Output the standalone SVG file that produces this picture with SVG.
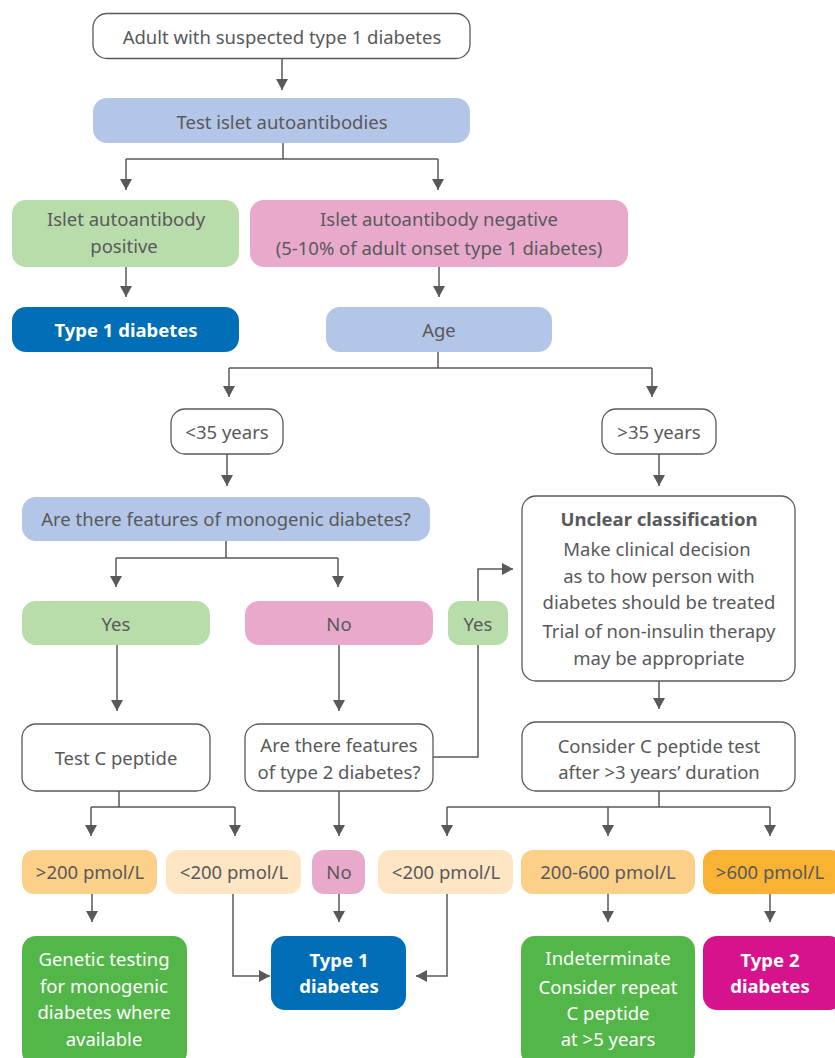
<svg xmlns="http://www.w3.org/2000/svg" width="835" height="1058" viewBox="0 0 835 1058">
<defs>
<marker id="ah" viewBox="0 0 10 8" refX="10" refY="4" markerWidth="11" markerHeight="12" markerUnits="userSpaceOnUse" orient="auto" preserveAspectRatio="none">
<path d="M0,0 L10,4 L0,8 z" fill="#58595b"/>
</marker>
</defs>
<style>
text{font-family:"Noto Sans",Lato,sans-serif;font-size:18.5px;fill:#58595b;text-anchor:middle;dominant-baseline:central}
.b{font-weight:bold}
.w{fill:#fff}
.wb{fill:#fff;font-weight:bold}
.wh{fill:#fff;stroke:#58595b;stroke-width:1.3}
.blue{fill:#b4c6e7}
.green{fill:#b9dcab}
.pink{fill:#e9a9cb}
.dblue{fill:#006eb6}
.dgreen{fill:#52b748}
.mag{fill:#d6138c}
.o1{fill:#fdd08a}
.o2{fill:#fee5c4}
.o3{fill:#f9b233}
.c{fill:none;stroke:#58595b;stroke-width:1.5;marker-end:url(#ah)}
.l{fill:none;stroke:#58595b;stroke-width:1.5}
</style>
<g id="connectors">
<path class="c" d="M282,58 V90"/>
<path class="l" d="M283,143 V159 M126,159 H438"/>
<path class="c" d="M126,159 V190"/>
<path class="c" d="M438,159 V190"/>
<path class="c" d="M126,267 V297"/>
<path class="c" d="M439,267 V297"/>
<path class="l" d="M438,352 V368 M229,368 H652"/>
<path class="c" d="M229,368 V397"/>
<path class="c" d="M652,368 V397"/>
<path class="c" d="M227,454 V486"/>
<path class="c" d="M659,454 V486"/>
<path class="l" d="M226,541 V558 M116,558 H338"/>
<path class="c" d="M116,558 V587"/>
<path class="c" d="M338,558 V587"/>
<path class="c" d="M117,645 V711"/>
<path class="c" d="M339,645 V711"/>
<path class="c" d="M433,757 H478 V569 H513"/>
<path class="c" d="M659,681 V709"/>
<path class="l" d="M119,791 V807 M91,807 H235"/>
<path class="c" d="M91,807 V836"/>
<path class="c" d="M235,807 V836"/>
<path class="c" d="M339,791 V836"/>
<path class="l" d="M659,791 V807 M447,807 H770"/>
<path class="c" d="M447,807 V836"/>
<path class="c" d="M608,807 V836"/>
<path class="c" d="M770,807 V836"/>
<path class="c" d="M92,894 V922"/>
<path class="c" d="M233,894 V976 H270"/>
<path class="c" d="M339,894 V922"/>
<path class="c" d="M447,894 V976 H416"/>
<path class="c" d="M608,894 V922"/>
<path class="c" d="M770,894 V922"/>
</g>
<g id="start"><rect class="wh" x="93" y="13.5" width="377" height="45" rx="14"/><text x="282" y="36">Adult with suspected type 1 diabetes</text></g>
<g id="test-islet"><rect class="blue" x="93" y="98" width="377" height="45" rx="14"/><text x="282" y="121">Test islet autoantibodies</text></g>
<g id="islet-pos"><rect class="green" x="12" y="200" width="227" height="67" rx="14"/><text x="126" y="218">Islet autoantibody</text><text x="124" y="245">positive</text></g>
<g id="islet-neg"><rect class="pink" x="250" y="200" width="378" height="67" rx="14"/><text x="439" y="218">Islet autoantibody negative</text><text x="439" y="247">(5-10% of adult onset type 1 diabetes)</text></g>
<g id="type1-a"><rect class="dblue" x="12" y="307" width="227" height="45" rx="14"/><text class="wb" x="126" y="329">Type 1 diabetes</text></g>
<g id="age"><rect class="blue" x="326" y="307" width="226" height="45" rx="14"/><text x="439" y="329">Age</text></g>
<g id="lt35"><rect class="wh" x="171" y="409" width="112" height="45" rx="14"/><text x="227" y="431">&lt;35 years</text></g>
<g id="gt35"><rect class="wh" x="602" y="409" width="114" height="45" rx="14"/><text x="659" y="431">&gt;35 years</text></g>
<g id="monogenic"><rect class="blue" x="22" y="497" width="408" height="44" rx="14"/><text x="226" y="518">Are there features of monogenic diabetes?</text></g>
<g id="unclear"><rect class="wh" x="522" y="496" width="273" height="185" rx="14"/>
<text class="b" x="659" y="518">Unclear classification</text>
<text x="657" y="548">Make clinical decision</text>
<text x="659" y="575">as to how person with</text>
<text x="659" y="601">diabetes should be treated</text>
<text x="659" y="630">Trial of non-insulin therapy</text>
<text x="659" y="657">may be appropriate</text></g>
<g id="yes1"><rect class="green" x="22" y="601" width="188" height="44" rx="14"/><text x="116" y="623">Yes</text></g>
<g id="no1"><rect class="pink" x="245" y="601" width="188" height="44" rx="14"/><text x="339" y="623">No</text></g>
<g id="yes2"><rect class="green" x="448" y="601" width="60" height="44" rx="12"/><text x="478" y="623">Yes</text></g>
<g id="test-c"><rect class="wh" x="22" y="724" width="188" height="67" rx="14"/><text x="116" y="757">Test C peptide</text></g>
<g id="type2-features"><rect class="wh" x="245" y="724" width="188" height="67" rx="14"/><text x="339" y="744">Are there features</text><text x="339" y="771">of type 2 diabetes?</text></g>
<g id="consider-c"><rect class="wh" x="522" y="722" width="273" height="69" rx="14"/><text x="659" y="745">Consider C peptide test</text><text x="659" y="771">after &gt;3 years’ duration</text></g>
<g id="gt200"><rect class="o1" x="22" y="850" width="135" height="44" rx="12"/><text x="90" y="871">&gt;200 pmol/L</text></g>
<g id="lt200a"><rect class="o2" x="166" y="850" width="135" height="44" rx="12"/><text x="234" y="871">&lt;200 pmol/L</text></g>
<g id="no2"><rect class="pink" x="312" y="850" width="53" height="44" rx="12"/><text x="339" y="871">No</text></g>
<g id="lt200b"><rect class="o2" x="378" y="850" width="135" height="44" rx="12"/><text x="446" y="871">&lt;200 pmol/L</text></g>
<g id="r200-600"><rect class="o1" x="521" y="850" width="174" height="44" rx="12"/><text x="608" y="871">200-600 pmol/L</text></g>
<g id="gt600"><rect class="o3" x="703" y="850" width="140" height="44" rx="12"/><text x="770" y="871">&gt;600 pmol/L</text></g>
<g id="genetic"><rect class="dgreen" x="22" y="936" width="165" height="130" rx="14"/>
<text class="w" x="104" y="958">Genetic testing</text>
<text class="w" x="104" y="985">for monogenic</text>
<text class="w" x="104" y="1011">diabetes where</text>
<text class="w" x="104" y="1038">available</text></g>
<g id="type1-b"><rect class="dblue" x="271" y="936" width="135" height="74" rx="14"/><text class="wb" x="339" y="959">Type 1</text><text class="wb" x="339" y="985">diabetes</text></g>
<g id="indeterminate"><rect class="dgreen" x="521" y="936" width="174" height="130" rx="14"/>
<text class="w" x="608" y="957">Indeterminate</text>
<text class="w" x="608" y="986">Consider repeat</text>
<text class="w" x="608" y="1012">C peptide</text>
<text class="w" x="608" y="1038">at &gt;5 years</text></g>
<g id="type2"><rect class="mag" x="703" y="936" width="140" height="74" rx="14"/><text class="wb" x="770" y="959">Type 2</text><text class="wb" x="770" y="985">diabetes</text></g>
</svg>
